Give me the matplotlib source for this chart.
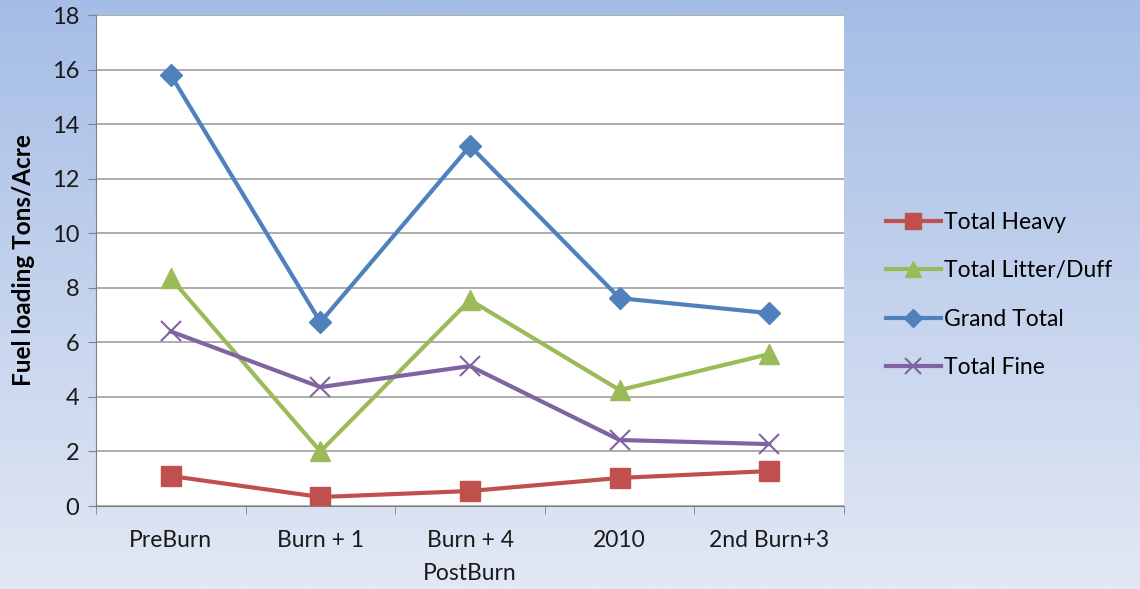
import numpy as np
import matplotlib.pyplot as plt

# categories and series
categories = ['PreBurn', 'Burn + 1', 'Burn + 4', '2010', '2nd Burn+3']
total_heavy = [1.1, 0.33, 0.55, 1.03, 1.28]
total_litter = [8.35, 2.0, 7.55, 4.25, 5.57]
grand_total = [15.8, 6.74, 13.2, 7.62, 7.07]
total_fine = [6.4, 4.36, 5.13, 2.42, 2.27]
yticks = [0, 2, 4, 6, 8, 10, 12, 14, 16, 18]

plt.rcParams['font.family'] = ['Lato', 'DejaVu Sans']

fig = plt.figure(figsize=(11.4, 5.89), dpi=100)

# vertical gradient background
bg = fig.add_axes([0, 0, 1, 1])
top = np.array([165, 189, 230]) / 255
bot = np.array([226, 232, 244]) / 255
t = np.linspace(0, 1, 256)[:, None]
grad = (top * (1 - t) + bot * t)[:, None, :]
bg.imshow(grad, aspect='auto', extent=[0, 1, 0, 1])
bg.axis('off')

ax = fig.add_axes([0.0842, 0.1409, 0.6562, 0.8336])
ax.set_facecolor('white')
x = np.arange(len(categories))

ax.plot(x, total_heavy, color='#c0504d', lw=3, marker='s', ms=14, label='Total Heavy')
ax.plot(x, total_litter, color='#9bbb59', lw=3, marker='^', ms=15, label='Total Litter/Duff')
ax.plot(x, grand_total, color='#4f81bd', lw=3, marker='D', ms=11, label='Grand Total')
ax.plot(x, total_fine, color='#8064a2', lw=3, marker='x', ms=14, mew=1.5, label='Total Fine')

ax.set_xlim(-0.5, len(categories) - 0.5)
ax.set_ylim(0, 18)
ax.set_yticks(yticks)
ax.yaxis.grid(True, color='#a0a0a0', lw=1.2)
ax.set_axisbelow(True)

ax.set_xticks(x)
ax.set_xticklabels(categories)
ax.set_xticks(np.arange(len(categories) + 1) - 0.5, minor=True)
ax.tick_params(axis='x', which='major', length=0, pad=17, labelsize=16.5, colors='#1a1a1a')
ax.tick_params(axis='x', which='minor', length=6, color='#808080')
ax.tick_params(axis='y', length=6, pad=6, color='#808080', labelsize=17, colors='#1a1a1a')

for s in ['top', 'right']:
    ax.spines[s].set_visible(False)
ax.spines['left'].set_color('#808080')
ax.spines['bottom'].set_color('#808080')

ax.set_xlabel('PostBurn', fontsize=16.5, labelpad=9, color='#1a1a1a')
ax.set_ylabel('Fuel loading Tons/Acre', fontsize=17.5, fontweight='bold', labelpad=12)

ax.legend(loc='center left', bbox_to_anchor=(1.028, 0.43), frameon=False,
          fontsize=16.5, handlelength=2.4, handletextpad=0.15, labelspacing=1.2,
          markerscale=0.8)

fig.savefig('out.png', dpi=100)
